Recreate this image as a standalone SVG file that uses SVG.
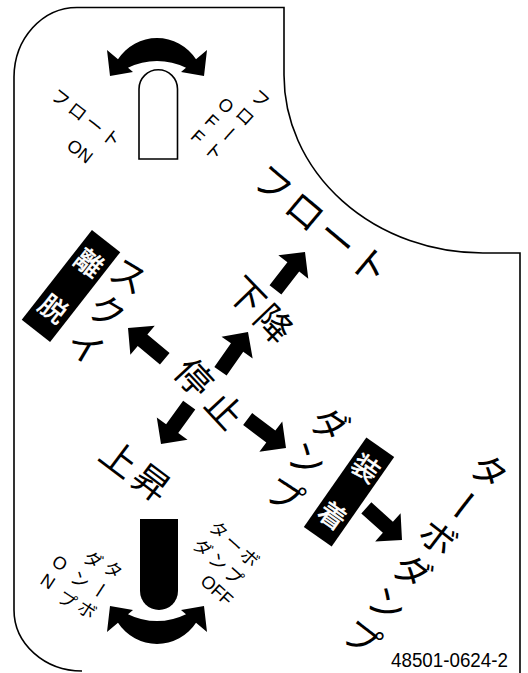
<svg xmlns="http://www.w3.org/2000/svg" width="528" height="673" viewBox="0 0 528 673">
<rect width="528" height="673" fill="#fff"/>

<g id="outline" fill="none" stroke="#000" stroke-width="1.6">
<path d="M14,77 A63,70 0 0 1 77,7.5 L284,7.5 L284,75 A199,178 0 0 0 483,253 L520,253 L520,673"/>
<path d="M14,77 L14,610 A68,61 0 0 0 82,671"/>
</g>

<g id="lever-float">
<path d="M107,50 L118,59.3 A46.4,46.4 0 0 1 196,59.3 L207,50 L204,76 L181,72 L186,67.8 A65.2,65.2 0 0 0 128,67.8 L133,72 L110,76 Z" fill="#000"/>
<path d="M139,159 L139,89 A19.25,19.25 0 0 1 177.5,89 L177.5,159 Z" fill="#fff" stroke="#000" stroke-width="1.6"/>
<text font-family="Noto Sans CJK JP" font-size="18" x="49.5 66.4 83.4 100.3" y="97.7 111.0 124.2 137.5" rotate="38">フロート</text>
<text font-family="Liberation Sans" font-size="18" x="65.4 76.4" y="147.8 156.4" rotate="38">ON</text>
<text font-family="Noto Sans CJK JP" font-size="18" x="249.6 233.9 230.3 202.4" y="97.6 115.1 122.7 150.0" rotate="42 42 132 42">フロート</text>
<text font-family="Liberation Sans" font-size="18" x="216.5 203.6 189.6" y="105.6 122.2 137.8" rotate="42">OFF</text>
</g>

<g id="lever-turbo">
<path d="M140,519 L178,519 L178,591 A19,19 0 0 1 140,591 Z" fill="#000"/>
<path transform="translate(0,682) scale(1,-1)" d="M107,50 L118,59.3 A46.4,46.4 0 0 1 196,59.3 L207,50 L204,76 L181,72 L186,67.8 A65.2,65.2 0 0 0 128,67.8 L133,72 L110,76 Z" fill="#000"/>
<text font-family="Noto Sans CJK JP" font-size="18" x="102.0 99.5 75.8" y="570.4 578.9 610.6" rotate="33 123 33">ターボ</text>
<text font-family="Noto Sans CJK JP" font-size="18" x="82.0 68.9 55.8" y="560.4 580.5 600.6" rotate="33">ダンプ</text>
<text font-family="Liberation Sans" font-size="18" x="50.6 39.0" y="564.4 583.1" rotate="33">ON</text>
<text font-family="Noto Sans CJK JP" font-size="18" x="207.4 223.0 238.6" y="528.8 542.8 556.8" rotate="42">ターボ</text>
<text font-family="Noto Sans CJK JP" font-size="18" x="191.4 207.0 222.6" y="546.8 560.8 574.8" rotate="42">ダンプ</text>
<text font-family="Liberation Sans" font-size="18" x="199.3 209.7 217.9" y="582.8 592.2 599.5" rotate="42">OFF</text>
</g>

<g id="labels">
<text font-family="Noto Sans CJK JP" font-size="38" x="249.4 281.6 313.8 346.0" y="182.8 209.8 236.8 263.8" rotate="40">フロート</text>
<text font-family="Noto Sans CJK JP" font-size="36" x="224.6 251.8" y="292.1 320.1" rotate="46">下降</text>
<text font-family="Noto Sans CJK JP" font-size="36" x="171.9 202.6" y="373.3 406.1" rotate="47">停止</text>
<text font-family="Noto Sans CJK JP" font-size="36" x="96.8 128.8" y="458.5 482.5" rotate="37">上昇</text>
<text font-family="Noto Sans CJK JP" font-size="36" x="106.5 84.9 63.3" y="277.8 313.8 349.8" rotate="31">スクイ</text>
<text font-family="Noto Sans CJK JP" font-size="36" x="307.7 284.8 261.9" y="425.9 461.1 496.3" rotate="33">ダンプ</text>
<text font-family="Noto Sans CJK JP" font-size="36" x="466.7 464.1 415.6 390.0 364.4 338.9" y="471.0 482.8 537.6 571.0 604.3 637.6" rotate="37.5 127.5 37.5 37.5 37.5 37.5">ターボダンプ</text>
</g>

<g id="tag-ridatsu">
<rect x="-18" y="-57" width="36" height="114" fill="#000" transform="translate(71,286) rotate(38)"/>
<text font-family="Noto Sans CJK JP" font-size="27" fill="#fff" stroke="#fff" stroke-width="0.6" x="72.3 36.5" y="262.4 308.2" rotate="38">離脱</text>
</g>

<g id="tag-souchaku">
<rect x="-17" y="-54.5" width="34" height="109" fill="#000" transform="translate(349,492) rotate(35)"/>
<text font-family="Noto Sans CJK JP" font-size="27" fill="#fff" stroke="#fff" stroke-width="0.6" x="349.0 315.8" y="468.4 516.0" rotate="35">装着</text>
</g>

<g id="connectors" fill="#000">
<path transform="translate(305,252) rotate(-52)" d="M-48,-7.5 L-19,-7.5 L-19,-19 L0,0 L-19,19 L-19,7.5 L-48,7.5 Z"/>
<path transform="translate(248,332) rotate(-55)" d="M-48,-7.5 L-19,-7.5 L-19,-19 L0,0 L-19,19 L-19,7.5 L-48,7.5 Z"/>
<path transform="translate(128,328) rotate(-140)" d="M-48,-7.5 L-19,-7.5 L-19,-19 L0,0 L-19,19 L-19,7.5 L-48,7.5 Z"/>
<path transform="translate(161,444) rotate(126)" d="M-48,-7.5 L-19,-7.5 L-19,-19 L0,0 L-19,19 L-19,7.5 L-48,7.5 Z"/>
<path transform="translate(286,448) rotate(37)" d="M-48,-7.5 L-19,-7.5 L-19,-19 L0,0 L-19,19 L-19,7.5 L-48,7.5 Z"/>
<path transform="translate(402,540) rotate(42)" d="M-48,-7.5 L-19,-7.5 L-19,-19 L0,0 L-19,19 L-19,7.5 L-48,7.5 Z"/>
</g>

<text transform="translate(391,667) scale(1,1.12)" font-family="Liberation Sans" font-size="18.8">48501-0624-2</text>
</svg>
